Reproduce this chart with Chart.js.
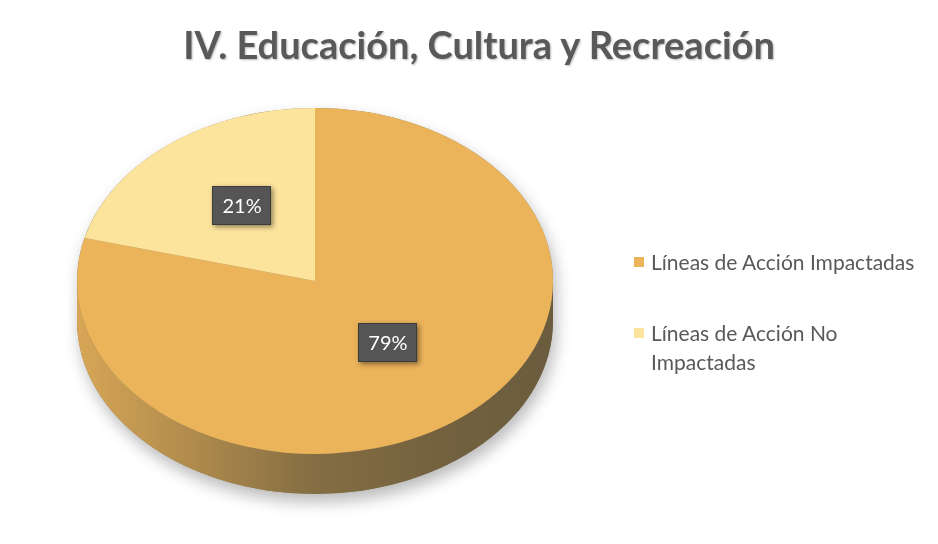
<!DOCTYPE html>
<html>
<head>
<meta charset="utf-8">
<script src="https://cdn.jsdelivr.net/npm/chart.js@4.4.1/dist/chart.umd.min.js"></script>
<style>
  html, body { margin: 0; padding: 0; background: #ffffff; }
  #wrap { position: relative; width: 938px; height: 544px; overflow: hidden; background: #ffffff; }
  #c { position: absolute; left: 0; top: 0; }
  #title {
    position: absolute; left: 0; top: 19px; width: 958px; text-align: center;
    font-family: Lato, "Open Sans", sans-serif; font-weight: bold; font-size: 38px; line-height: 50px;
    color: #595959; text-shadow: 1px 1px 2px rgba(0,0,0,0.28); white-space: nowrap;
  }
  #legend {
    position: absolute; left: 634px; top: 247px;
    font-family: Lato, "Open Sans", sans-serif; font-size: 21px; color: #595959;
  }
  .item { display: flex; align-items: flex-start; margin-bottom: 42px; }
  .box { width: 10px; height: 10px; margin-top: 10px; margin-right: 7px; flex: none; }
  .txt { line-height: 29px; max-width: 282px; }
</style>
</head>
<body>
<div id="wrap">
  <canvas id="c" width="938" height="544"></canvas>
  <div id="title"></div>
  <div id="legend"></div>
</div>
<script>
const TITLE = 'IV. Educación, Cultura y Recreación';
const categories = ['Líneas de Acción Impactadas', 'Líneas de Acción No Impactadas'];
const values = [79, 21];
const sliceColors = ['#EBB35A', '#FDE49C'];

document.getElementById('title').textContent = TITLE;

function hexToRgb(h) {
  const n = parseInt(h.slice(1), 16);
  return [(n >> 16) & 255, (n >> 8) & 255, n & 255];
}
function mix(hex, tint, t) {
  const a = hexToRgb(hex), b = hexToRgb(tint);
  const c = a.map((v, i) => Math.round(v * (1 - t) + b[i] * t));
  return 'rgb(' + c.join(',') + ')';
}

const pie3D = {
  id: 'pie3D',
  geom(chart) {
    const a = chart.chartArea;
    const arc = chart.getDatasetMeta(0).data[0];
    const r = arc.outerRadius;
    return { cx: arc.x, cy: arc.y, r: r, sx: (a.width / 2) / r, sy: (a.height / 2) / r };
  },
  beforeDatasetsDraw(chart, args, opts) {
    const ctx = chart.ctx;
    const g = this.geom(chart);
    const rx = g.r * g.sx, ry = g.r * g.sy, d = opts.depth;
    // soft shadow of the whole disc
    ctx.save();
    ctx.shadowColor = 'rgba(0,0,0,0.28)';
    ctx.shadowBlur = 16;
    ctx.shadowOffsetX = 3;
    ctx.shadowOffsetY = 8;
    ctx.beginPath();
    ctx.ellipse(g.cx, g.cy, rx, ry, 0, Math.PI, 2 * Math.PI, false);
    ctx.ellipse(g.cx, g.cy + d, rx, ry, 0, 0, Math.PI, false);
    ctx.closePath();
    ctx.fillStyle = '#8a7a55';
    ctx.fill();
    ctx.restore();
    // side walls for the front half, per slice
    const meta = chart.getDatasetMeta(0);
    meta.data.forEach((arc, i) => {
      const base = chart.data.datasets[0].backgroundColor[i];
      for (let k = -1; k <= 1; k++) {
        const s = arc.startAngle + 2 * Math.PI * k;
        const e = arc.endAngle + 2 * Math.PI * k;
        const lo = Math.max(s, 0), hi = Math.min(e, Math.PI);
        if (lo >= hi) continue;
        const grad = ctx.createLinearGradient(g.cx - rx, 0, g.cx + rx, 0);
        grad.addColorStop(0, mix(base, '#4a4636', 0.12));
        grad.addColorStop(0.25, mix(base, '#4a4636', 0.38));
        grad.addColorStop(0.5, mix(base, '#4a4636', 0.64));
        grad.addColorStop(0.75, mix(base, '#4a4636', 0.74));
        grad.addColorStop(1, mix(base, '#4a4636', 0.8));
        ctx.save();
        ctx.beginPath();
        ctx.ellipse(g.cx, g.cy, rx, ry, 0, lo, hi, false);
        ctx.ellipse(g.cx, g.cy + d, rx, ry, 0, hi, lo, true);
        ctx.closePath();
        ctx.fillStyle = grad;
        ctx.fill();
        ctx.restore();
      }
    });
    // squash the top face into an ellipse
    ctx.save();
    ctx.translate(g.cx, g.cy);
    ctx.scale(g.sx, g.sy);
    ctx.translate(-g.cx, -g.cy);
  },
  afterDatasetsDraw(chart, args, opts) {
    const ctx = chart.ctx;
    ctx.restore();
    const g = this.geom(chart);
    const data = chart.data.datasets[0].data;
    const total = data.reduce((a, b) => a + b, 0);
    chart.getDatasetMeta(0).data.forEach((arc, i) => {
      const p = arc.getCenterPoint();
      const x = g.cx + (p.x - g.cx) * g.sx;
      const y = g.cy + (p.y - g.cy) * g.sy - opts.labelLift;
      const txt = Math.round(data[i] / total * 100) + '%';
      ctx.save();
      ctx.font = opts.labelFont;
      const w = ctx.measureText(txt).width + 20;
      const h = 39;
      ctx.shadowColor = 'rgba(0,0,0,0.45)';
      ctx.shadowBlur = 5;
      ctx.shadowOffsetX = 2;
      ctx.shadowOffsetY = 2;
      ctx.fillStyle = '#555555';
      ctx.fillRect(Math.round(x - w / 2), Math.round(y - h / 2), Math.round(w), h);
      ctx.shadowColor = 'transparent';
      ctx.strokeStyle = '#3c3c3c';
      ctx.lineWidth = 1;
      ctx.strokeRect(Math.round(x - w / 2) + 0.5, Math.round(y - h / 2) + 0.5, Math.round(w) - 1, h - 1);
      ctx.fillStyle = '#ffffff';
      ctx.textAlign = 'center';
      ctx.textBaseline = 'middle';
      ctx.fillText(txt, x, y + 1);
      ctx.restore();
    });
  }
};

const chart = new Chart(document.getElementById('c'), {
  type: 'pie',
  data: {
    labels: categories,
    datasets: [{
      data: values,
      backgroundColor: sliceColors,
      borderWidth: 0,
      clip: false
    }]
  },
  options: {
    responsive: false,
    animation: false,
    events: [],
    rotation: 0,
    layout: { padding: { top: 108, bottom: 90, left: 77, right: 385 } },
    plugins: {
      legend: { display: false },
      tooltip: { enabled: false },
      title: { display: false },
      pie3D: { depth: 40, labelLift: 7, labelFont: '20px Lato, "Open Sans", sans-serif' }
    }
  },
  plugins: [pie3D]
});

// legend built from the chart's own labels and colours
const lg = document.getElementById('legend');
chart.data.labels.forEach((lab, i) => {
  const it = document.createElement('div');
  it.className = 'item';
  const b = document.createElement('div');
  b.className = 'box';
  b.style.background = chart.data.datasets[0].backgroundColor[i];
  const t = document.createElement('div');
  t.className = 'txt';
  t.textContent = lab;
  it.appendChild(b);
  it.appendChild(t);
  lg.appendChild(it);
});
</script>
</body>
</html>
